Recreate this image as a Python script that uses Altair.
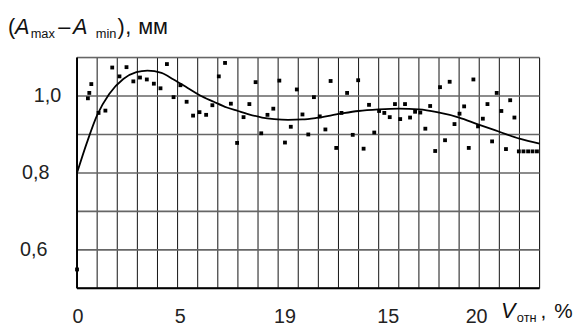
import altair as alt
import pandas as pd

# ---- data ----
x_pts = [0.0, 0.54, 0.61, 0.71, 1.07, 1.41, 1.75, 2.11, 2.46, 2.80,
         3.13, 3.47, 3.82, 4.15, 4.47, 4.80, 5.14, 5.45, 5.77, 6.09,
         6.42, 6.73, 7.05, 7.36, 7.65, 7.96, 8.28, 8.57, 8.88, 9.16,
         9.47, 9.76, 10.06, 10.34, 10.63, 10.93, 11.21, 11.50, 11.78, 12.07,
         12.35, 12.61, 12.89, 13.15, 13.43, 13.71, 13.98, 14.25, 14.52, 14.78,
         15.02, 15.28, 15.55, 15.81, 16.07, 16.31, 16.56, 16.81, 17.07, 17.32,
         17.56, 17.81, 18.05, 18.30, 18.53, 18.77, 19.02, 19.25, 19.48, 19.71,
         19.94, 20.18, 20.41, 20.64, 20.87, 21.10, 21.33, 21.54, 21.75, 21.97,
         22.20, 22.43, 22.65, 22.87]
y_pts = [0.549, 0.994, 1.008, 1.031, 0.956, 0.962, 1.074, 1.051, 1.075, 1.038,
         1.048, 1.043, 1.032, 1.020, 1.083, 0.997, 1.028, 0.985, 0.949, 0.958,
         0.951, 0.976, 1.051, 1.086, 0.980, 0.878, 0.945, 0.979, 1.036, 0.903,
         0.951, 0.967, 1.040, 0.879, 0.920, 1.017, 0.952, 0.900, 0.997, 0.947,
         0.913, 1.039, 0.865, 0.956, 1.008, 0.899, 1.041, 0.863, 0.977, 0.905,
         0.961, 0.956, 0.945, 0.979, 0.940, 0.979, 0.944, 0.959, 0.957, 0.915,
         0.974, 0.857, 1.023, 0.885, 1.037, 0.927, 0.954, 0.973, 0.865, 1.043,
         0.921, 0.941, 0.979, 0.882, 1.008, 0.961, 0.862, 0.989, 0.944, 0.856,
         0.856, 0.856, 0.856, 0.856]

curve_x = [0.0, 0.5, 1.0, 1.6, 2.3, 2.95, 3.5, 4.2, 4.8, 5.5, 6.1, 6.8, 7.45,
           8.0, 8.5, 9.2, 9.8, 10.5, 11.2, 11.9, 13.1, 14.0, 15.0, 16.0, 17.0,
           17.9, 19.0, 19.9, 21.0, 22.0, 23.0]
curve_y = [0.800, 0.880, 0.950, 1.005, 1.044, 1.062, 1.066, 1.060, 1.043, 1.021,
           1.002, 0.985, 0.970, 0.961, 0.953, 0.944, 0.940, 0.938, 0.939, 0.943,
           0.954, 0.961, 0.965, 0.967, 0.965, 0.958, 0.944, 0.927, 0.907, 0.889,
           0.876]

x_grid = list(range(0, 24))
y_grid = [0.5, 0.6, 0.7, 0.8, 0.9, 1.0, 1.1]
y_label_vals = [0.6, 0.8, 1.0]
y_label_txt = ["0,6", "0,8", "1,0"]
x_label_pos = [0.05, 5.13, 10.34, 15.48, 19.87]
x_label_txt = ["0", "5", "19", "15", "20"]

# styling: right edge (px, relative to the plot's left edge) of each y label
y_label_right = [-30, -28, -16]

FONT = "Liberation Sans"
W, H = 469, 234

pts = pd.DataFrame({"x": x_pts, "y": y_pts})
crv = pd.DataFrame({"x": curve_x, "y": curve_y})
vg = pd.DataFrame({"x": x_grid})
hg = pd.DataFrame({"y": y_grid})
ylab = pd.DataFrame({"y": y_label_vals, "t": y_label_txt, "px": y_label_right})
xlab = pd.DataFrame({"x": x_label_pos, "t": x_label_txt})
x_axis_line = pd.DataFrame({"x": [x_grid[0]]})
y_axis_line = pd.DataFrame({"y": [y_grid[0]]})

xs = alt.Scale(domain=[0, 23], nice=False, zero=False)
ys = alt.Scale(domain=[0.5, 1.1], nice=False, zero=False)

vgrid = alt.Chart(vg).mark_rule(color="#111", strokeWidth=1).encode(
    x=alt.X("x:Q", scale=xs, axis=None)
)
hgrid = alt.Chart(hg).mark_rule(color="#666", strokeWidth=1.6).encode(
    y=alt.Y("y:Q", scale=ys, axis=None)
)
left_line = alt.Chart(x_axis_line).mark_rule(color="#000", strokeWidth=2).encode(
    x=alt.X("x:Q", scale=xs, axis=None)
)
bottom_line = alt.Chart(y_axis_line).mark_rule(color="#000", strokeWidth=2).encode(
    y=alt.Y("y:Q", scale=ys, axis=None)
)

points = alt.Chart(pts).mark_square(size=15, color="#000", opacity=1).encode(
    x=alt.X("x:Q", scale=xs, axis=None),
    y=alt.Y("y:Q", scale=ys, axis=None),
)

curve = alt.Chart(crv).mark_line(color="#000", strokeWidth=1.8,
                                 interpolate="monotone").encode(
    x=alt.X("x:Q", scale=xs, axis=None), y=alt.Y("y:Q", scale=ys, axis=None)
)

ytext = alt.Chart(ylab).mark_text(
    align="right", baseline="middle", font=FONT, fontSize=20, color="#222"
).encode(y=alt.Y("y:Q", scale=ys, axis=None),
         x=alt.X("px:Q", scale=None, axis=None), text="t:N")

xtext = alt.Chart(xlab).mark_text(
    align="center", baseline="alphabetic", font=FONT, fontSize=20, color="#222"
).encode(x=alt.X("x:Q", scale=xs, axis=None), y=alt.value(H + 35), text="t:N")


def txt(s, px, py, size, italic=False):
    return alt.Chart(pd.DataFrame({"t": [s]})).mark_text(
        align="left", baseline="alphabetic", font=FONT, fontSize=size,
        fontStyle="italic" if italic else "normal", color="#111"
    ).encode(text="t:N", x=alt.value(px), y=alt.value(py))


labels = [
    txt("(", -70, -24, 22),
    txt("A", -63, -24, 22, True),
    txt("max", -47, -20, 13),
    txt("–", -19, -24, 22),
    txt("A", -4, -24, 22, True),
    txt("min", 19, -20, 13),
    txt(")", 41, -24, 22),
    txt(",", 49, -24, 22),
    txt("мм", 62, -24, 22),
    txt("V", 430, 264, 22, True),
    txt("отн", 446, 268, 13),
    txt(",", 470, 264, 21),
    txt("%", 484, 264, 21),
]

chart = alt.layer(vgrid, hgrid, left_line, bottom_line, points, curve,
                  ytext, xtext, *labels).properties(
    width=W, height=H,
    padding={"left": 70, "top": 48, "right": 40, "bottom": 36},
    autosize=alt.AutoSizeParams(type="none"),
).configure_view(stroke="#222", strokeWidth=1.5).configure(background="white")

chart.save("out.html", embed_options={"renderer": "svg", "actions": False})
